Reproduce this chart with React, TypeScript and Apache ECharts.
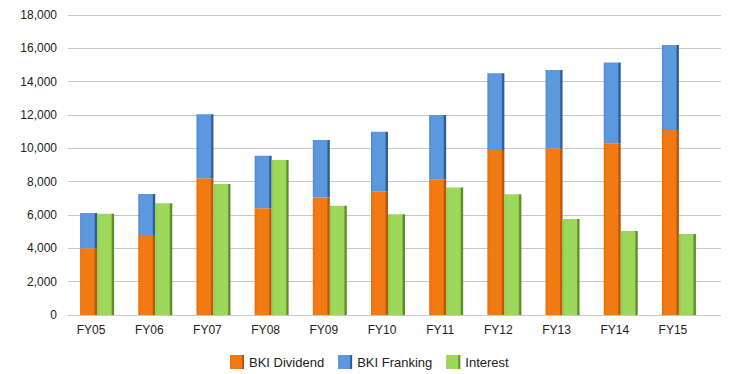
import React, { useEffect, useRef } from "react";
import * as echarts from "echarts";

const categories = ["FY05", "FY06", "FY07", "FY08", "FY09", "FY10", "FY11", "FY12", "FY13", "FY14", "FY15"];
const bkiDividend = [4000, 4800, 8200, 6400, 7050, 7400, 8150, 9900, 10000, 10300, 11100];
const bkiFranking = [2120, 2460, 3850, 3150, 3450, 3600, 3850, 4600, 4700, 4850, 5100];
const interest = [6080, 6700, 7860, 9300, 6550, 6050, 7650, 7240, 5760, 5040, 4860];

const FONT = "'Liberation Sans', Arial, sans-serif";

function grad(light: string, base: string, dark: string) {
  return new echarts.graphic.LinearGradient(0, 0, 1, 0, [
    { offset: 0, color: light },
    { offset: 0.15, color: base },
    { offset: 0.82, color: base },
    { offset: 0.9, color: dark },
    { offset: 1, color: dark },
  ]);
}

export default function App() {
  const ref = useRef<HTMLDivElement>(null);
  useEffect(() => {
    if (!ref.current) return;
    document.body.style.margin = "0";
    const chart = echarts.init(ref.current, undefined, { renderer: "svg" });
    const orange = grad("#E86E0A", "#F27A12", "#B8560A");
    const blue = grad("#4F8AD0", "#5C98DD", "#2F5C99");
    const green = grad("#8CCB4A", "#9DD85A", "#5E8E2A");
    chart.setOption({
      animation: false,
      backgroundColor: "#ffffff",
      textStyle: { fontFamily: FONT },
      grid: [
        { left: 68, right: 14, top: 15, bottom: 59 },
        { left: 68, right: 27, top: 15, bottom: 59 },
      ],
      legend: {
        left: 225,
        top: 350,
        itemWidth: 14,
        itemHeight: 14,
        itemGap: 14,
        icon: "rect",
        textStyle: { fontFamily: FONT, fontSize: 13, color: "#222" },
        data: ["BKI Dividend", "BKI Franking", "Interest"],
      },
      xAxis: [
        { type: "category", gridIndex: 0, data: [""], show: false },
        {
          type: "category",
          gridIndex: 1,
          data: categories,
          axisLine: { show: false },
          axisTick: { show: false },
          axisLabel: {
            color: "#222",
            fontSize: 12,
            fontFamily: FONT,
            margin: 9,
            padding: [0, 12, 0, 0],
          },
        },
      ],
      yAxis: [
        {
          type: "value",
          gridIndex: 0,
          min: 0,
          max: 18000,
          interval: 2000,
          axisLine: { show: false },
          axisTick: { show: false },
          splitLine: { lineStyle: { color: "#C8C8C8", width: 1 } },
          axisLabel: {
            color: "#222",
            fontSize: 12,
            fontFamily: FONT,
            margin: 11,
            formatter: (v: number) => v.toLocaleString("en-US"),
          },
        },
        {
          type: "value",
          gridIndex: 1,
          min: 0,
          max: 18000,
          interval: 2000,
          show: false,
          splitLine: { show: false },
        },
      ],
      series: [
        {
          name: "BKI Dividend",
          type: "bar",
          xAxisIndex: 1,
          yAxisIndex: 1,
          stack: "bki",
          barWidth: 17,
          barGap: "0%",
          data: bkiDividend,
          itemStyle: { color: orange },
        },
        {
          name: "BKI Franking",
          type: "bar",
          xAxisIndex: 1,
          yAxisIndex: 1,
          stack: "bki",
          barWidth: 17,
          barGap: "0%",
          data: bkiFranking,
          itemStyle: { color: blue },
        },
        {
          name: "Interest",
          type: "bar",
          xAxisIndex: 1,
          yAxisIndex: 1,
          barWidth: 17,
          barGap: "0%",
          data: interest,
          itemStyle: { color: green },
        },
      ],
    });
    return () => chart.dispose();
  }, []);
  return <div ref={ref} style={{ width: 735, height: 374, position: "fixed", left: 0, top: 0 }} />;
}
